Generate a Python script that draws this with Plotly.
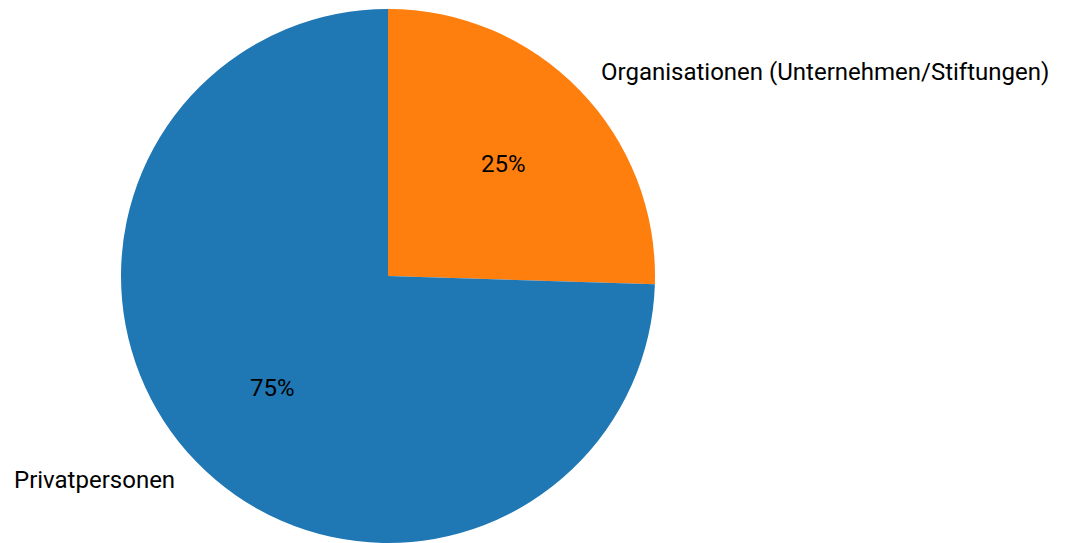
import math
import plotly.graph_objects as go

labels = ["Organisationen (Unternehmen/Stiftungen)", "Privatpersonen"]
values = [13, 38]
colors = ["#ff7f0e", "#1f77b4"]

W, H = 1069, 543
cx, cy, r = 388, 276, 267  # pie centre / radius in pixels
dom_x = [(cx - r) / W, (cx + r) / W]
dom_y = [1 - (cy + r) / H, 1 - (cy - r) / H]

FONT = "Roboto"
FS = 24

fig = go.Figure(go.Pie(
    labels=labels, values=values, sort=False, direction="clockwise",
    rotation=0, marker=dict(colors=colors, line=dict(width=0)),
    textinfo="none", hoverinfo="label+percent", showlegend=False,
    domain=dict(x=dom_x, y=dom_y),
))

total = sum(values)
start = 90.0
ann = []
for lab, v in zip(labels, values):
    frac = v / total
    sweep = 360 * frac
    mid = math.radians(start - sweep / 2)
    start -= sweep
    px = cx + 0.6 * r * math.cos(mid)
    py = cy - 0.6 * r * math.sin(mid)
    ann.append(dict(x=px / W, y=1 - py / H, xref="paper", yref="paper",
                    text=f"{round(frac*100)}%", showarrow=False,
                    font=dict(family=FONT, size=FS, color="black"),
                    xanchor="center", yanchor="middle"))
    lx = cx + 1.1 * r * math.cos(mid)
    ly = cy - 1.1 * r * math.sin(mid)
    ann.append(dict(x=lx / W, y=1 - ly / H, xref="paper", yref="paper",
                    text=lab, showarrow=False,
                    font=dict(family=FONT, size=FS, color="black"),
                    xanchor="left" if math.cos(mid) > 0 else "right",
                    yanchor="middle"))

fig.update_layout(
    width=W, height=H, margin=dict(l=0, r=0, t=0, b=0),
    paper_bgcolor="white", plot_bgcolor="white", annotations=ann,
)
fig.write_html("out.html")
